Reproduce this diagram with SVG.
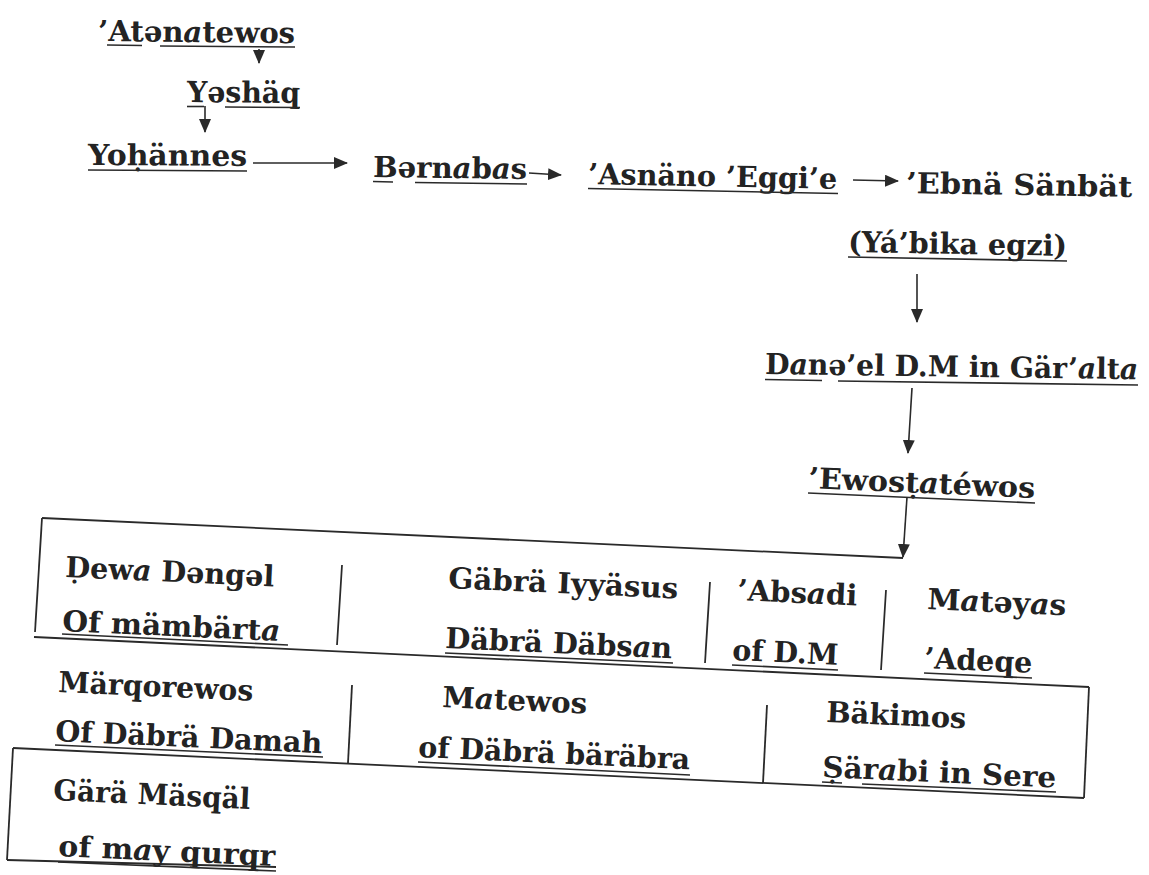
<svg xmlns="http://www.w3.org/2000/svg" width="1149" height="875" viewBox="0 0 1149 875">
<defs>
<style>
.t{font-family:"DejaVu Serif","Liberation Serif",serif;font-weight:bold;font-size:29px;fill:#232323}
.i{font-style:italic}
.u{stroke:#2a2a2a;stroke-width:1.6;fill:none}
.c{stroke:#2a2a2a;stroke-width:1.6;fill:none;marker-end:url(#ah)}
.f{stroke:#2a2a2a;stroke-width:1.8;fill:none}
</style>
<marker id="ah" markerUnits="userSpaceOnUse" viewBox="0 0 14 12" markerWidth="14" markerHeight="12" refX="13" refY="6" orient="auto">
<path d="M0,0 L14,6 L0,12 z" fill="#2a2a2a"/>
</marker>
</defs>
<rect width="1149" height="875" fill="#ffffff"/>

<g id="connectors">
<line class="c" x1="259" y1="49" x2="259" y2="63"/>
<line class="c" x1="205" y1="106" x2="205" y2="132"/>
<line class="c" x1="253" y1="163" x2="347" y2="163"/>
<line class="c" x1="529" y1="173" x2="561" y2="175"/>
<line class="c" x1="853" y1="180" x2="898" y2="181"/>
<line class="c" x1="917" y1="274" x2="917" y2="322"/>
<line class="c" x1="912" y1="388" x2="908" y2="453"/>
<line class="c" x1="907" y1="497" x2="903" y2="557"/>
</g>

<g id="n-atenatewos">
<text class="t" x="98" y="41" textLength="197" lengthAdjust="spacingAndGlyphs" transform="rotate(0.6 98 41)">’Atən<tspan class="i">a</tspan>tewos</text>
<line class="u" x1="107" y1="45" x2="142" y2="45.5"/>
<line class="u" x1="160" y1="46" x2="295" y2="47"/>
</g>
<g id="n-yeshaq">
<text class="t" x="187" y="102" textLength="113" lengthAdjust="spacingAndGlyphs" transform="rotate(0.5 187 102)">Yəshäq</text>
<line class="u" x1="187" y1="106.5" x2="204" y2="106.5"/>
<line class="u" x1="225" y1="107" x2="300" y2="107.5"/>
</g>
<g id="n-yohannes">
<text class="t" x="88" y="165" textLength="159" lengthAdjust="spacingAndGlyphs" transform="rotate(0.3 88 165)">Yoḥännes</text>
<line class="u" x1="88" y1="170" x2="247" y2="171"/>
</g>
<g id="n-bernabas">
<text class="t" x="373" y="177" textLength="154" lengthAdjust="spacingAndGlyphs" transform="rotate(0.7 373 177)">Bərn<tspan class="i">a</tspan>b<tspan class="i">a</tspan>s</text>
<line class="u" x1="373" y1="181.5" x2="393" y2="182"/>
<line class="u" x1="415" y1="182.5" x2="527" y2="184"/>
</g>
<g id="n-asnano">
<text class="t" x="588" y="184" textLength="249" lengthAdjust="spacingAndGlyphs" transform="rotate(1.1 588 184)">’Asnäno ’Eggi’e</text>
<line class="u" x1="588" y1="188.5" x2="838" y2="193.5"/>
</g>
<g id="n-ebna">
<text class="t" x="906" y="193" textLength="226" lengthAdjust="spacingAndGlyphs" transform="rotate(1 906 193)">’Ebnä Sänbät</text>
</g>
<g id="n-yabika">
<text class="t" x="848" y="252" textLength="219" lengthAdjust="spacingAndGlyphs" transform="rotate(1 848 252)">(Yá’bika egzi)</text>
<line class="u" x1="848" y1="257" x2="1067" y2="261"/>
</g>
<g id="n-danel">
<text class="t" x="765" y="374" textLength="373" lengthAdjust="spacingAndGlyphs" transform="rotate(0.8 765 374)">D<tspan class="i">a</tspan>nə’el D.M in Gär’<tspan class="i">a</tspan>lt<tspan class="i">a</tspan></text>
<line class="u" x1="765" y1="379.5" x2="822" y2="380.5"/>
<line class="u" x1="838" y1="381" x2="1138" y2="385"/>
</g>
<g id="n-ewostatewos">
<text class="t" x="808" y="488" textLength="227" lengthAdjust="spacingAndGlyphs" transform="rotate(2.5 808 488)">’Ewosṭ<tspan class="i">a</tspan>téwos</text>
<line class="u" x1="808" y1="493" x2="1035" y2="503"/>
</g>

<g id="table">
<line class="f" x1="42" y1="518" x2="903" y2="558"/>
<line class="f" x1="42" y1="518" x2="35" y2="632"/>
<line class="f" x1="34" y1="637" x2="1089" y2="687"/>
<line class="f" x1="1089" y1="687" x2="1084" y2="798"/>
<line class="f" x1="13" y1="748" x2="1084" y2="798"/>
<line class="f" x1="13" y1="748" x2="7" y2="860"/>
<line class="f" x1="7" y1="860" x2="276" y2="867"/>
<line class="f" x1="342" y1="565" x2="337" y2="645"/>
<line class="f" x1="710" y1="582" x2="705" y2="663"/>
<line class="f" x1="886" y1="590" x2="881" y2="670"/>
<line class="f" x1="352" y1="685" x2="348" y2="763"/>
<line class="f" x1="767" y1="705" x2="763" y2="783"/>
</g>

<g id="n-dewa">
<text class="t" x="65" y="577" textLength="209" lengthAdjust="spacingAndGlyphs" transform="rotate(2.6 65 577)">Ḍew<tspan class="i">a</tspan> Dəngəl</text>
<text class="t" x="62" y="631" textLength="218" lengthAdjust="spacingAndGlyphs" transform="rotate(2.6 62 631)">Of mämbärt<tspan class="i">a</tspan></text>
<line class="u" x1="62" y1="634" x2="288" y2="645"/>
</g>
<g id="n-gabra">
<text class="t" x="448" y="588" textLength="230" lengthAdjust="spacingAndGlyphs" transform="rotate(2.6 448 588)">Gäbrä Iyyäsus</text>
<text class="t" x="445" y="648" textLength="227" lengthAdjust="spacingAndGlyphs" transform="rotate(2.6 445 648)">Däbrä Däbs<tspan class="i">a</tspan>n</text>
<line class="u" x1="445" y1="653" x2="673" y2="663"/>
</g>
<g id="n-absadi">
<text class="t" x="737" y="600" textLength="120" lengthAdjust="spacingAndGlyphs" transform="rotate(2.6 737 600)">’Abs<tspan class="i">a</tspan>di</text>
<text class="t" x="732" y="660" textLength="106" lengthAdjust="spacingAndGlyphs" transform="rotate(2.6 732 660)">of D.M</text>
<line class="u" x1="732" y1="665" x2="838" y2="670"/>
</g>
<g id="n-mateyas">
<text class="t" x="927" y="609" textLength="139" lengthAdjust="spacingAndGlyphs" transform="rotate(2.6 927 609)">M<tspan class="i">a</tspan>təy<tspan class="i">a</tspan>s</text>
<text class="t" x="924" y="668" textLength="108" lengthAdjust="spacingAndGlyphs" transform="rotate(2.6 924 668)">’Adeqe</text>
<line class="u" x1="924" y1="673" x2="1032" y2="678"/>
</g>
<g id="n-marqorewos">
<text class="t" x="58" y="692" textLength="195" lengthAdjust="spacingAndGlyphs" transform="rotate(2.6 58 692)">Märqorewos</text>
<text class="t" x="55" y="741" textLength="267" lengthAdjust="spacingAndGlyphs" transform="rotate(2.6 55 741)">Of Däbrä Damah</text>
<line class="u" x1="55" y1="745" x2="323" y2="757"/>
</g>
<g id="n-matewos">
<text class="t" x="442" y="707" textLength="145" lengthAdjust="spacingAndGlyphs" transform="rotate(2.6 442 707)">M<tspan class="i">a</tspan>tewos</text>
<text class="t" x="418" y="757" textLength="272" lengthAdjust="spacingAndGlyphs" transform="rotate(2.6 418 757)">of Däbrä bäräbra</text>
<line class="u" x1="418" y1="762" x2="690" y2="775"/>
</g>
<g id="n-bakimos">
<text class="t" x="826" y="722" textLength="140" lengthAdjust="spacingAndGlyphs" transform="rotate(2.6 826 722)">Bäkimos</text>
<text class="t" x="822" y="777" textLength="234" lengthAdjust="spacingAndGlyphs" transform="rotate(2.6 822 777)">Ṣär<tspan class="i">a</tspan>bi in Sere</text>
<line class="u" x1="822" y1="782" x2="842" y2="783"/>
<line class="u" x1="862" y1="784" x2="1056" y2="792"/>
</g>
<g id="n-gara">
<text class="t" x="53" y="800" textLength="197" lengthAdjust="spacingAndGlyphs" transform="rotate(2.6 53 800)">Gärä Mäsqäl</text>
<text class="t" x="58" y="856" textLength="217" lengthAdjust="spacingAndGlyphs" transform="rotate(2.6 58 856)">of m<tspan class="i">a</tspan>y qurqr</text>
<line class="u" x1="58" y1="862" x2="276" y2="871"/>
</g>
</svg>
